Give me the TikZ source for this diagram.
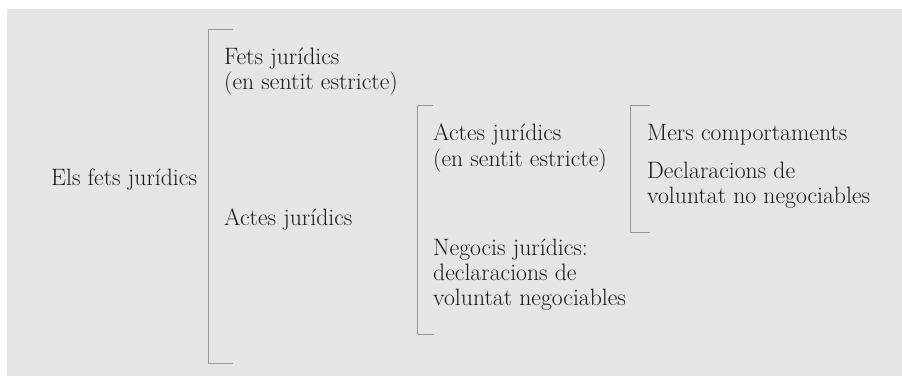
\documentclass[tikz,border=0pt]{standalone}
\begin{document}
\begin{tikzpicture}[x=1pt,y=-1pt,
  lbl/.style={anchor=base west,inner sep=0pt,align=left,font=\fontsize{23.7}{25}\selectfont,text=black!90},
  brk/.style={draw=black!40,line width=0.9pt}]
\useasboundingbox (0,0) rectangle (902,376);
\fill[white] (0,0) rectangle (902,376);
\fill[black!10] (7,9) rectangle (902,376);
% brackets
\draw[brk] (233,29) -- (208,29) -- (208,363) -- (233,363);
\draw[brk] (433,105) -- (417,105) -- (417,334) -- (434,334);
\draw[brk] (650,105) -- (630,105) -- (630,232) -- (650,232);
% texts
\node[lbl] (root) at (51,185) {Els fets jurídics};
\node[lbl] (fets) at (224,64) {Fets jurídics};
\node[lbl] (fets2) at (224,89) {(en sentit estricte)};
\node[lbl] (actes) at (224,225) {Actes jurídics};
\node[lbl] (aj) at (433,140) {Actes jurídics};
\node[lbl] (aj2) at (433,166) {(en sentit estricte)};
\node[lbl] (mers) at (647,140) {Mers comportaments};
\node[lbl] (decl) at (647,178) {Declaracions de};
\node[lbl] (decl2) at (647,203) {voluntat no negociables};
\node[lbl] (neg) at (433,255) {Negocis jurídics:};
\node[lbl] (neg2) at (433,280) {declaracions de};
\node[lbl] (neg3) at (433,305) {voluntat negociables};
\end{tikzpicture}
\end{document}
